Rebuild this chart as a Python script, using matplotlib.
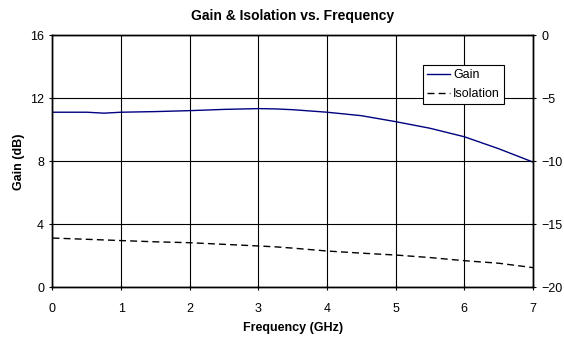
import matplotlib.pyplot as plt

plt.rcParams['font.family'] = ['Liberation Sans', 'DejaVu Sans']

# Frequency points (GHz)
freq = [0, 0.5, 0.75, 1, 1.5, 2, 2.5, 3, 3.25, 3.5, 4, 4.5, 5, 5.5, 6, 6.5, 7]
# Gain (dB), left axis
gain = [11.12, 11.12, 11.06, 11.12, 11.16, 11.22, 11.3, 11.35, 11.33, 11.28, 11.12,
        10.9, 10.52, 10.1, 9.56, 8.8, 7.95]
# Isolation (dB), right axis
isolation = [-16.1, -16.2, -16.25, -16.3, -16.4, -16.47, -16.6, -16.73, -16.8,
             -16.9, -17.13, -17.3, -17.45, -17.65, -17.9, -18.1, -18.45]

fig, ax = plt.subplots(figsize=(5.64, 3.41), dpi=100)
fig.subplots_adjust(left=0.093, right=0.945, top=0.896, bottom=0.158)
ax2 = ax.twinx()

l1, = ax.plot(freq, gain, color='#000080', lw=1.0, label='Gain')
l2, = ax2.plot(freq, isolation, color='black', lw=1.0, ls=(0, (5, 3)), label='Isolation')

ax.set_xlim(0, 7)
ax.set_ylim(0, 16)
ax.set_yticks([0, 4, 8, 12, 16])
ax.set_xticks(range(8))
ax2.set_ylim(-20, 0)
ax2.set_yticks([0, -5, -10, -15, -20])

ax.grid(True, color='black', lw=0.8)
ax.set_axisbelow(True)
for a in (ax, ax2):
    a.tick_params(direction='inout', length=5, width=0.8, labelsize=9)
    for s in a.spines.values():
        s.set_linewidth(1.0)
ax.tick_params(axis='x', pad=9)

ax.set_title('Gain & Isolation vs. Frequency', fontsize=10, fontweight='bold', pad=11)
ax.set_xlabel('Frequency (GHz)', fontsize=9, fontweight='bold', labelpad=5)
ax.set_ylabel('Gain (dB)', fontsize=9, fontweight='bold')

leg = ax2.legend(handles=[l1, l2], loc='upper left', bbox_to_anchor=(0.75, 0.809),
                 bbox_transform=fig.transFigure,
                 fontsize=9, frameon=True, fancybox=False, edgecolor='black',
                 framealpha=1, handlelength=1.85, handletextpad=0.25,
                 borderpad=0.3, labelspacing=0.6, borderaxespad=0)
leg.get_frame().set_linewidth(0.8)

fig.savefig('out.png', dpi=100)
